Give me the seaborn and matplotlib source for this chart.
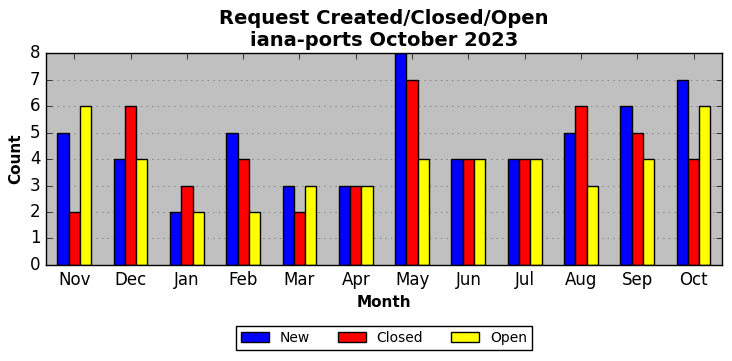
import matplotlib
matplotlib.use('Agg')

from matplotlib import pyplot as plt
import seaborn as sns
import pandas as pd

months = ['Nov', 'Dec', 'Jan', 'Feb', 'Mar', 'Apr', 'May', 'Jun', 'Jul', 'Aug', 'Sep', 'Oct']
new = [5, 4, 2, 5, 3, 3, 8, 4, 4, 5, 6, 7]
closed = [2, 6, 3, 4, 2, 3, 7, 4, 4, 6, 5, 4]
opened = [6, 4, 2, 2, 3, 3, 4, 4, 4, 3, 4, 6]

df = pd.DataFrame({'Month': months, 'New': new, 'Closed': closed, 'Open': opened})
df = df.melt(id_vars='Month', var_name='Type', value_name='Count')

plt.style.use('classic')

fig = plt.figure(figsize=(7.32, 3.61), dpi=100, facecolor='white')
ax = fig.add_axes([0.063, 0.266, 0.923, 0.587])
ax.set_facecolor('#c0c0c0')

sns.barplot(data=df, x='Month', y='Count', hue='Type', order=months,
            palette=['blue', 'red', 'yellow'], saturation=1, width=0.6,
            edgecolor='black', linewidth=1, ax=ax)

ax.set_ylim(0, 8)
ax.set_xlim(-0.5, 11.5)
ax.yaxis.grid(True, linestyle=':', color='0.5', linewidth=0.7)
ax.set_axisbelow(True)
ax.tick_params(labelsize=12)

ax.set_title('Request Created/Closed/Open\niana-ports October 2023', fontsize=14, fontweight='bold')
ax.set_xlabel('Month', fontsize=11, fontweight='bold')
ax.set_ylabel('Count', fontsize=11, fontweight='bold')

ax.legend(loc='upper center', bbox_to_anchor=(0.5, -0.255), ncol=3, fontsize=10,
          fancybox=False, title=None, borderpad=0.35)

plt.savefig('out.png', dpi=100, facecolor='white')
